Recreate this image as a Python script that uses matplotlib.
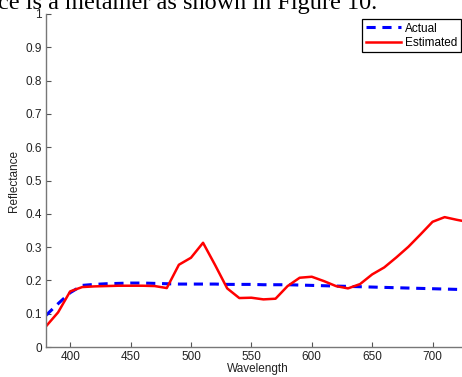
import matplotlib
matplotlib.use("Agg")
import matplotlib.pyplot as plt

# wavelength grid (nm)
wavelength = [380, 390, 400, 410, 420, 430, 440, 450, 460, 470, 480, 490,
              500, 510, 520, 530, 540, 550, 560, 570, 580, 590, 600, 610,
              620, 630, 640, 650, 660, 670, 680, 690, 700, 710, 720, 730]

actual = [0.095, 0.130, 0.163, 0.185, 0.188, 0.190, 0.191, 0.192, 0.192, 0.191,
          0.190, 0.189, 0.189, 0.189, 0.189, 0.188, 0.188, 0.188, 0.187, 0.187,
          0.187, 0.186, 0.185, 0.184, 0.183, 0.182, 0.181, 0.180, 0.179, 0.178,
          0.177, 0.176, 0.175, 0.174, 0.173, 0.172]

estimated = [0.062, 0.104, 0.167, 0.180, 0.182, 0.183, 0.184, 0.184, 0.184, 0.183,
             0.177, 0.247, 0.268, 0.313, 0.246, 0.176, 0.147, 0.148, 0.143, 0.145,
             0.183, 0.208, 0.211, 0.198, 0.183, 0.176, 0.189, 0.218, 0.239, 0.269,
             0.301, 0.338, 0.376, 0.390, 0.382, 0.375]

plt.rcParams["font.family"] = ["Liberation Sans", "DejaVu Sans"]

fig = plt.figure(figsize=(4.62, 3.77), dpi=100)
ax = fig.add_axes([46 / 462, 30 / 377, 422.8 / 462, 333 / 377])

ax.plot(wavelength, actual, color="#0000ff", ls=(0, (3, 2.2)), lw=2.2, label="Actual")
ax.plot(wavelength, estimated, color="#ff0000", lw=1.8, label="Estimated")

ax.set_xlim(380, 730)
ax.set_ylim(0, 1)
ax.set_xticks([400, 450, 500, 550, 600, 650, 700])
ax.set_yticks([0, 0.1, 0.2, 0.3, 0.4, 0.5, 0.6, 0.7, 0.8, 0.9, 1])
ax.set_yticklabels(["0", "0.1", "0.2", "0.3", "0.4", "0.5", "0.6", "0.7", "0.8", "0.9", "1"])
ax.tick_params(direction="in", length=3.5, width=0.8, color="#555555",
               labelsize=8.5, labelcolor="#222222", pad=3)
for s in ["top", "right"]:
    ax.spines[s].set_visible(False)
for s in ["left", "bottom"]:
    ax.spines[s].set_color("#777777")
    ax.spines[s].set_linewidth(1.0)

ax.set_xlabel("Wavelength", fontsize=8.5, color="#222222", labelpad=0)
ax.set_ylabel("Reflectance", fontsize=8.5, color="#222222", labelpad=4)

leg = ax.legend(loc="upper right", bbox_to_anchor=(461 / 462, 1 - 19 / 377),
                bbox_transform=fig.transFigure, borderaxespad=0, fancybox=False,
                fontsize=8.5, handlelength=3.0, handletextpad=0.35,
                borderpad=0.3, labelspacing=0.2, framealpha=1)
leg.get_frame().set_edgecolor("black")
leg.get_frame().set_linewidth(0.9)

# cropped line of the surrounding page text
fig.text(-0.005, 1 - 9 / 377, "ce is a metamer as shown in Figure 10.",
         family=["Liberation Serif", "DejaVu Serif"], fontsize=17.5, va="baseline", ha="left")

fig.savefig("out.png", dpi=100)
